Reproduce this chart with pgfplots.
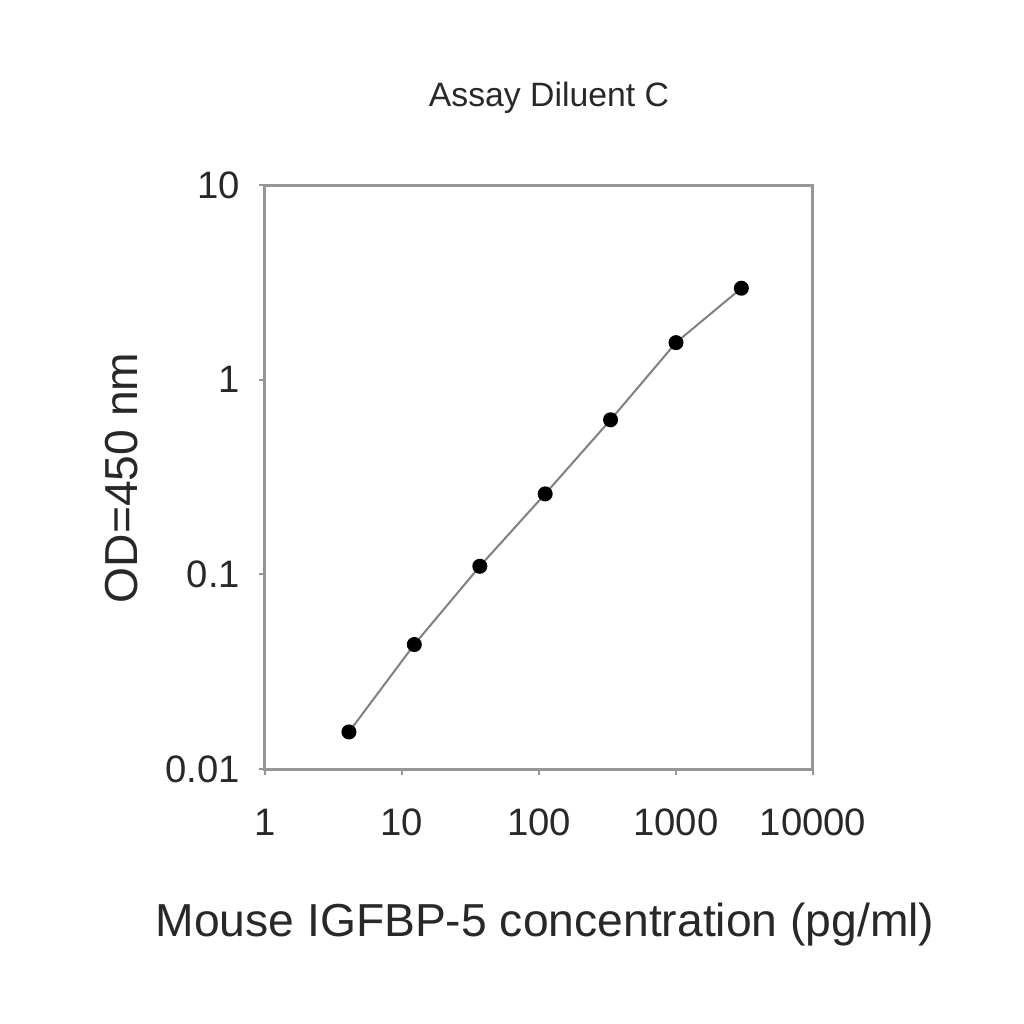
\documentclass[border=0pt]{standalone}
\usepackage{pgfplots}
\pgfplotsset{compat=1.18}
\usepackage{fontspec}
\setmainfont{Liberation Sans}
\definecolor{axgray}{RGB}{150,150,150}
\definecolor{txt}{RGB}{40,40,40}
\begin{document}
\begin{tikzpicture}[x=1pt,y=1pt]
\path[use as bounding box, fill=white] (-106,-102) rectangle (303.6,307.6);
\begin{axis}[
  at={(0,0)}, anchor=south west,
  scale only axis,
  width=219.2pt, height=233.6pt,
  xmode=log, ymode=log,
  xmin=1, xmax=10000, ymin=0.01, ymax=10,
  xtick={1,10,100,1000,10000},
  xticklabels={1,10,100,1000,10000},
  ytick={0.01,0.1,1,10},
  yticklabels={0.01,0.1,1,10},
  minor tick num=0,
  log basis x=10, log basis y=10,
  axis line style={axgray, line width=1.2pt},
  tick style={axgray, line width=0.8pt},
  major tick length=2.5pt,
  tick align=outside,
  xtick pos=bottom, ytick pos=left,
  ticklabel style={font=\fontsize{15.3}{18}\selectfont, text=txt},
  xticklabel style={yshift=-10pt},
  yticklabel style={xshift=-4pt},
  /pgf/number format/assume math mode=true,
  clip=false,
]
\addplot[color=gray, line width=0.8pt, mark=*, mark size=2.6pt,
  mark options={fill=black, draw=black}] coordinates {
  (4.1,0.0155) (12.3,0.0436) (37,0.110) (111,0.259) (333,0.622) (1000,1.55) (3000,2.95)
};
\end{axis}
\node[text=txt, font=\fontsize{13.5}{16}\selectfont] at (113.6,268.4) {Assay Diluent C};
\node[text=txt, font=\fontsize{18.5}{22}\selectfont] at (112,-62.4) {Mouse IGFBP-5 concentration (pg/ml)};
\node[text=txt, font=\fontsize{18.5}{22}\selectfont, rotate=90] at (-57.2,116.4) {OD=450 nm};
\end{tikzpicture}
\end{document}
